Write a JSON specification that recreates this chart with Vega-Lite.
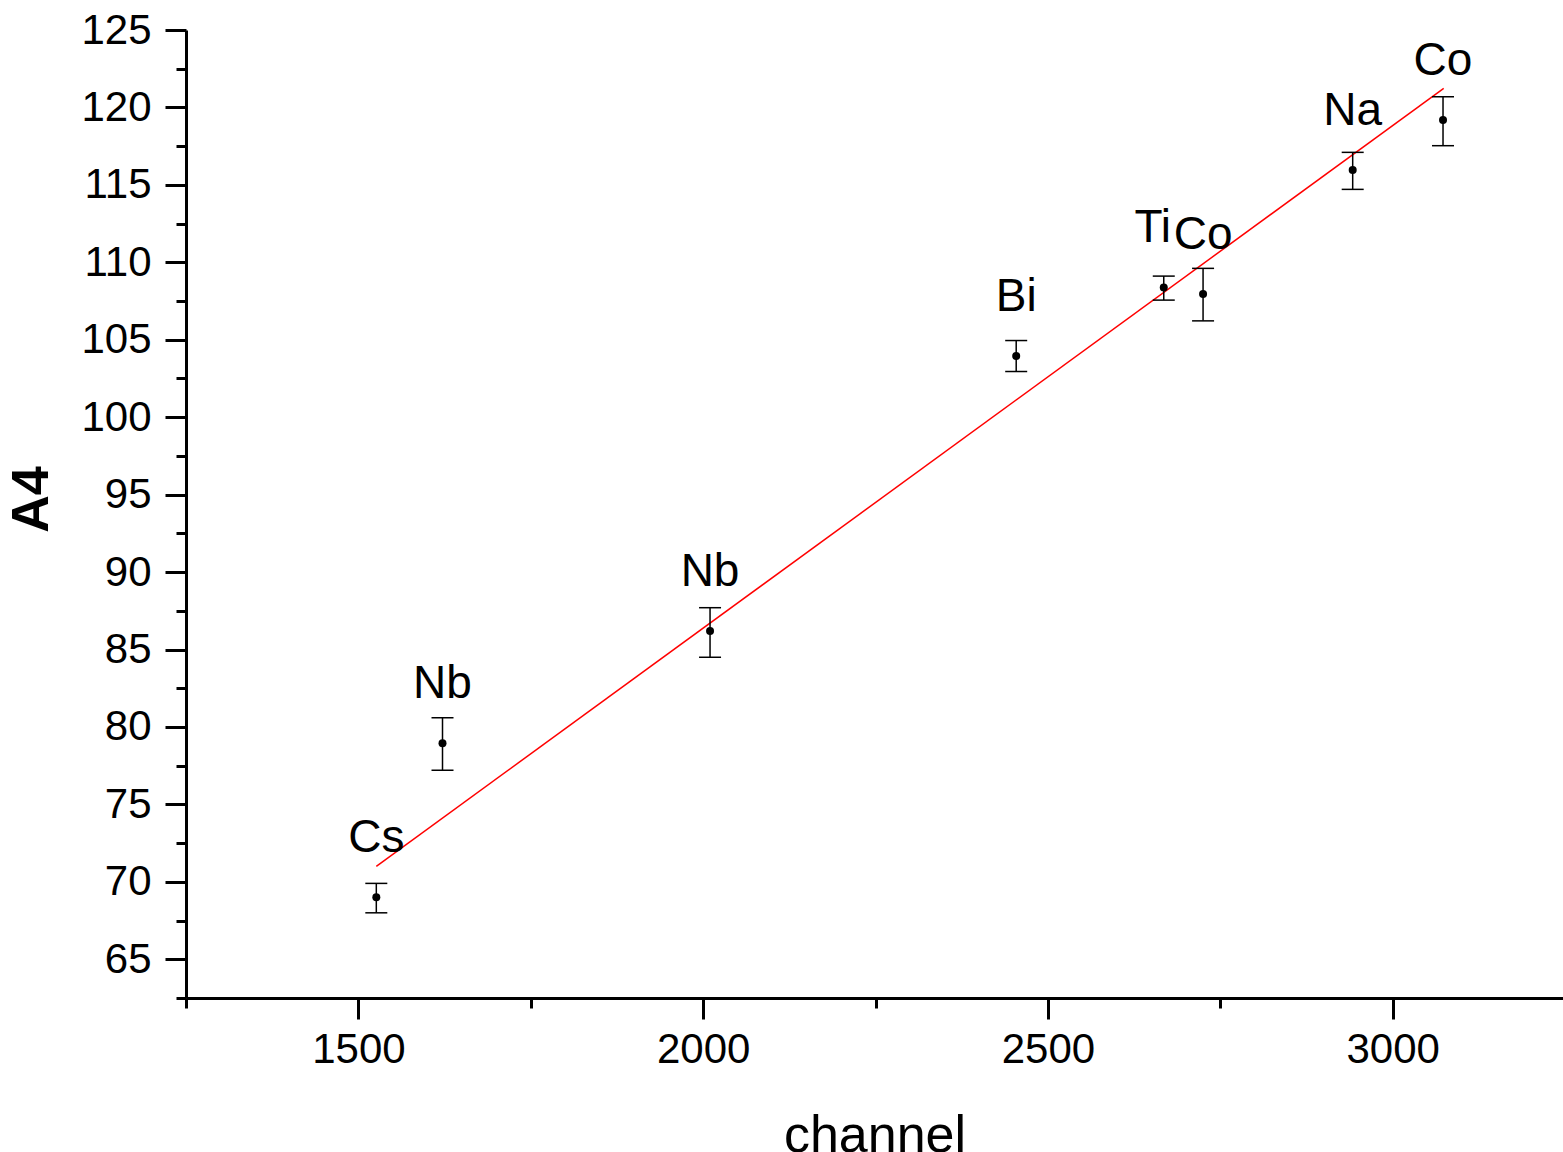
{
  "$schema": "https://vega.github.io/schema/vega-lite/v6.json",
  "width": 1377,
  "height": 968,
  "autosize": {"type": "none"},
  "padding": {"left": 186, "top": 30, "right": 0, "bottom": 154},
  "background": "white",
  "config": {"view": {"stroke": null}, "font": "Liberation Sans"},
  "resolve": {"axis": {"x": "independent", "y": "independent"}},
  "datasets": {
    "points": [
      {"label": "Cs", "channel": 1526, "A4": 69.0, "lo": 68.0, "hi": 69.9},
      {"label": "Nb", "channel": 1622, "A4": 78.95, "lo": 77.2, "hi": 80.6},
      {"label": "Nb", "channel": 2010, "A4": 86.2, "lo": 84.5, "hi": 87.7},
      {"label": "Bi", "channel": 2454, "A4": 103.95, "lo": 102.95, "hi": 104.95},
      {"label": "Ti", "channel": 2668, "A4": 108.38, "lo": 107.56, "hi": 109.11},
      {"label": "Co", "channel": 2725, "A4": 107.95, "lo": 106.22, "hi": 109.61},
      {"label": "Na", "channel": 2942, "A4": 115.96, "lo": 114.71, "hi": 117.1},
      {"label": "Co", "channel": 3073, "A4": 119.19, "lo": 117.53, "hi": 120.69}
    ],
    "fit": [
      {"channel": 1526, "A4": 71.0},
      {"channel": 3074, "A4": 121.23}
    ]
  },
  "layer": [
    {
      "data": {"name": "fit"},
      "mark": {"type": "line", "color": "#ff0000", "strokeWidth": 1.5},
      "encoding": {
        "x": {
          "field": "channel", "type": "quantitative", "title": "channel",
          "scale": {"domain": [1250, 3247], "nice": false, "zero": false},
          "axis": {
            "orient": "bottom",
            "values": [1500, 2000, 2500, 3000],
            "format": "d",
            "grid": false,
            "domainColor": "black", "domainWidth": 3,
            "tickColor": "black", "tickWidth": 3, "tickSize": 21,
            "labelFontSize": 42, "labelColor": "black", "labelPadding": 10,
            "labelOverlap": false, "labelFlush": false, "labelBound": false,
            "titleFontSize": 52, "titleFontWeight": "normal", "titleColor": "black", "titlePadding": 40
          }
        },
        "y": {
          "field": "A4", "type": "quantitative", "title": "A4",
          "scale": {"domain": [62.5, 125], "nice": false, "zero": false},
          "axis": {
            "orient": "left",
            "values": [65, 70, 75, 80, 85, 90, 95, 100, 105, 110, 115, 120, 125],
            "format": "d",
            "grid": false,
            "domainColor": "black", "domainWidth": 3,
            "tickColor": "black", "tickWidth": 3, "tickSize": 21,
            "labelFontSize": 42, "labelColor": "black", "labelPadding": 14,
            "labelOverlap": false, "labelFlush": false, "labelBound": false,
            "titleFontSize": 52, "titleFontWeight": "bold", "titleColor": "black", "titlePadding": 22,
            "titleY": 469
          }
        }
      }
    },
    {
      "data": {"name": "points"},
      "mark": {"type": "rule", "color": "black", "strokeWidth": 1.5},
      "encoding": {
        "x": {"field": "channel", "type": "quantitative", "axis": null},
        "y": {"field": "lo", "type": "quantitative", "axis": null},
        "y2": {"field": "hi"}
      }
    },
    {
      "data": {"name": "points"},
      "mark": {"type": "tick", "orient": "horizontal", "color": "black", "size": 22, "thickness": 1.5, "opacity": 1},
      "encoding": {
        "x": {"field": "channel", "type": "quantitative", "axis": null},
        "y": {"field": "lo", "type": "quantitative", "axis": null}
      }
    },
    {
      "data": {"name": "points"},
      "mark": {"type": "tick", "orient": "horizontal", "color": "black", "size": 22, "thickness": 1.5, "opacity": 1},
      "encoding": {
        "x": {"field": "channel", "type": "quantitative", "axis": null},
        "y": {"field": "hi", "type": "quantitative", "axis": null}
      }
    },
    {
      "data": {"name": "points"},
      "mark": {"type": "circle", "color": "black", "size": 64, "opacity": 1},
      "encoding": {
        "x": {
          "field": "channel", "type": "quantitative",
          "axis": {
            "orient": "bottom", "title": null, "values": [1250, 1750, 2250, 2750],
            "labels": false, "domain": false, "grid": false,
            "tickColor": "black", "tickWidth": 3, "tickSize": 10
          }
        },
        "y": {
          "field": "A4", "type": "quantitative",
          "axis": {
            "orient": "left", "title": null,
            "values": [62.5, 67.5, 72.5, 77.5, 82.5, 87.5, 92.5, 97.5, 102.5, 107.5, 112.5, 117.5, 122.5],
            "labels": false, "domain": false, "grid": false,
            "tickColor": "black", "tickWidth": 3, "tickSize": 10
          }
        }
      }
    },
    {
      "data": {"name": "points"},
      "transform": [{"filter": "datum.label !== 'Ti'"}],
      "mark": {"type": "text", "fontSize": 46, "color": "black", "align": "center", "baseline": "alphabetic", "dy": -45},
      "encoding": {
        "x": {"field": "channel", "type": "quantitative", "axis": null},
        "y": {"field": "A4", "type": "quantitative", "axis": null},
        "text": {"field": "label"}
      }
    },
    {
      "data": {"name": "points"},
      "transform": [{"filter": "datum.label === 'Ti'"}],
      "mark": {"type": "text", "fontSize": 46, "color": "black", "align": "center", "baseline": "alphabetic", "dy": -45, "dx": -11},
      "encoding": {
        "x": {"field": "channel", "type": "quantitative", "axis": null},
        "y": {"field": "A4", "type": "quantitative", "axis": null},
        "text": {"field": "label"}
      }
    }
  ]
}
